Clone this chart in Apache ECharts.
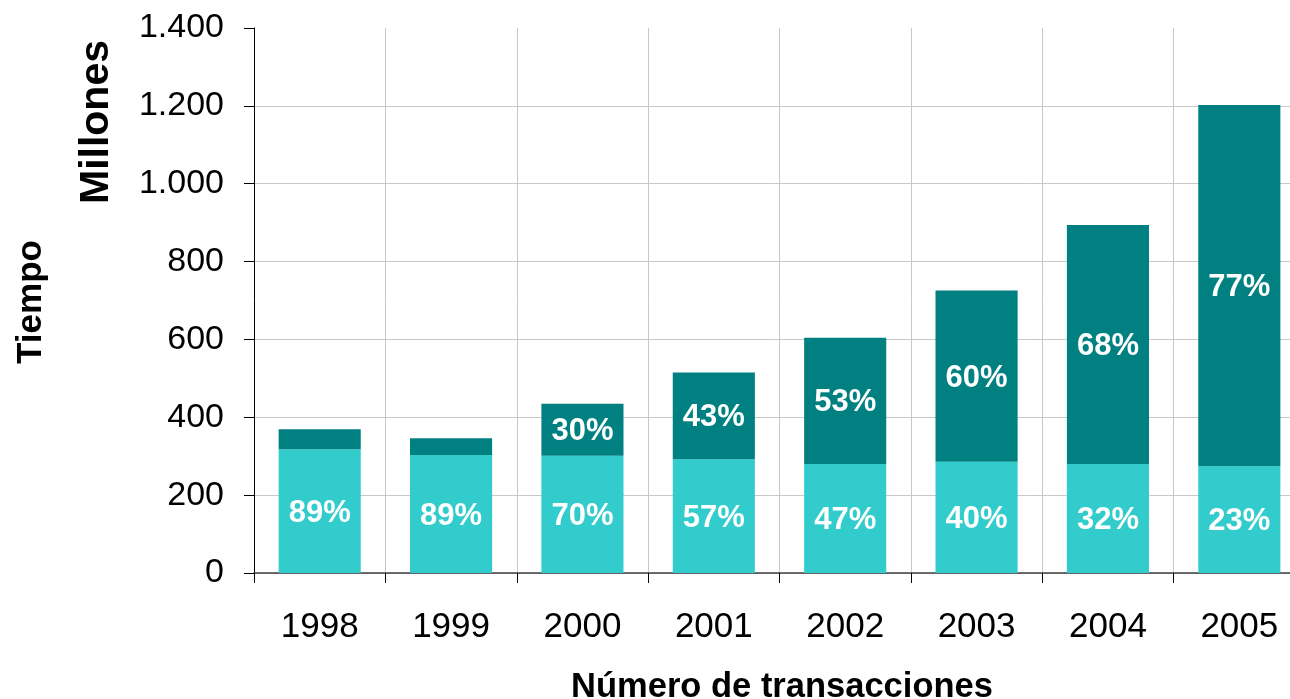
<!DOCTYPE html>
<html>
<head>
<meta charset="utf-8">
<script src="https://cdn.jsdelivr.net/npm/echarts@6/dist/echarts.min.js"></script>
<style>
html,body{margin:0;padding:0;background:#fff;}
#chart{width:1290px;height:699px;}
</style>
</head>
<body>
<div id="chart"></div>
<script>
var categories = ['1998','1999','2000','2001','2002','2003','2004','2005'];
var lowerValues = [318, 303, 301, 292, 280, 286, 280, 274];
var upperValues = [51, 43, 134, 223, 324, 440, 614, 928];
var lowerLabels = ['89%','89%','70%','57%','47%','40%','32%','23%'];
var upperLabels = ['','','30%','43%','53%','60%','68%','77%'];
var yTicks = [0, 200, 400, 600, 800, 1000, 1200, 1400];

var FONT = 'Liberation Sans, Arial, sans-serif';
var chart = echarts.init(document.getElementById('chart'));

function fmt(v){
  return String(v).replace(/\B(?=(\d{3})+(?!\d))/g, '.');
}

chart.setOption({
  animation: false,
  backgroundColor: '#ffffff',
  grid: { left: 254, top: 28, width: 1051, height: 545, outerBoundsMode: 'none', containLabel: false },
  xAxis: {
    type: 'category',
    data: categories,
    axisLine: { show: true, lineStyle: { color: '#404040', width: 1.5 } },
    axisTick: { show: true, length: 10, lineStyle: { color: '#000', width: 1 } },
    axisLabel: { color: '#000', fontFamily: FONT, fontSize: 35, margin: 37 },
    splitLine: { show: true, lineStyle: { color: '#c8c8c8', width: 1 } }
  },
  yAxis: {
    type: 'value',
    min: yTicks[0],
    max: yTicks[yTicks.length - 1],
    interval: 200,
    axisLine: { show: true, lineStyle: { color: '#000', width: 1 } },
    axisTick: { show: true, length: 10, lineStyle: { color: '#000' } },
    axisLabel: { color: '#000', fontFamily: FONT, fontSize: 34, margin: 30, formatter: fmt },
    splitLine: { show: true, showMaxLine: false, lineStyle: { color: '#c8c8c8', width: 1 } }
  },
  series: [
    {
      type: 'bar',
      stack: 'total',
      data: lowerValues,
      barWidth: '62.5%',
      itemStyle: { color: '#33CCCC' },
      label: {
        show: true, position: 'inside', offset: [0, 2], color: '#fff', fontFamily: FONT,
        fontWeight: 'bold', fontSize: 31,
        formatter: function(p){ return lowerLabels[p.dataIndex]; }
      }
    },
    {
      type: 'bar',
      stack: 'total',
      data: upperValues,
      barWidth: '62.5%',
      itemStyle: { color: '#008080' },
      label: {
        show: true, position: 'inside', offset: [0, 2], color: '#fff', fontFamily: FONT,
        fontWeight: 'bold', fontSize: 31,
        formatter: function(p){ return upperLabels[p.dataIndex]; }
      }
    }
  ],
  graphic: [
    { type: 'text', x: 97, y: 122, rotation: Math.PI / 2,
      style: { text: 'Millones', font: 'bold 41px ' + FONT, fill: '#000', align: 'center', verticalAlign: 'middle' } },
    { type: 'text', x: 31, y: 302, rotation: Math.PI / 2,
      style: { text: 'Tiempo', font: 'bold 35px ' + FONT, fill: '#000', align: 'center', verticalAlign: 'middle' } },
    { type: 'text', x: 782, y: 687,
      style: { text: 'Número de transacciones', font: 'bold 34.5px ' + FONT, fill: '#000', align: 'center', verticalAlign: 'middle' } }
  ]
});
</script>
</body>
</html>
